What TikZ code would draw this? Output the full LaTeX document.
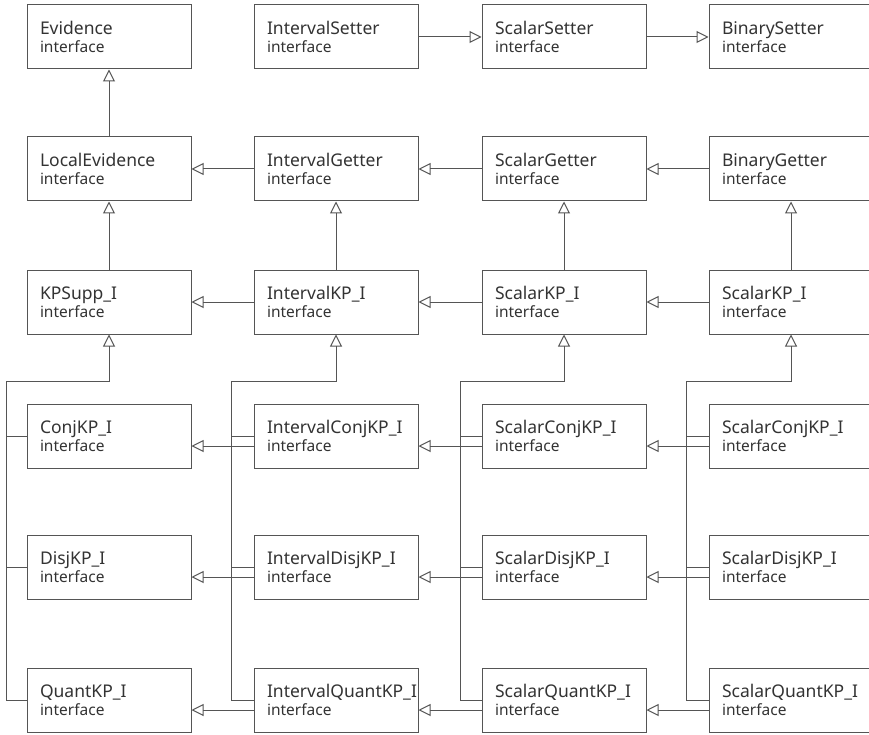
\documentclass[tikz,border=0pt]{standalone}
\usepackage{fontspec}
\setmainfont{Noto Sans}
\usetikzlibrary{positioning,arrows.meta}
\definecolor{linec}{HTML}{555555}
\definecolor{textc}{HTML}{333333}
\newcommand{\iname}[1]{#1\\\fontsize{15.5}{18}\selectfont interface}

\begin{document}
\begin{tikzpicture}[x=1pt,y=-1pt,
  iface/.style={draw=linec,line width=1pt,minimum width=164pt,minimum height=64pt,
    text width=138pt,inner xsep=13pt,inner ysep=0pt,align=left,text=textc,
    font=\fontsize{17.5}{18}\selectfont},
  gen/.style={draw=linec,line width=1pt,-{Triangle[open,length=12pt,width=12pt]}},
  bus/.style={draw=linec,line width=1pt}]
\useasboundingbox (0,0) rectangle (869,735);
\clip (0,0) rectangle (869,735);
% top two rows
\node (evid) [iface] at (109,37) {\iname{Evidence}};
\node (isetter) [iface] at (336,37) {\iname{IntervalSetter}};
\node (ssetter) [iface] at (564,37) {\iname{ScalarSetter}};
\node (bsetter) [iface] at (791,37) {\iname{BinarySetter}};
\node (locev) [iface] at (109,169) {\iname{LocalEvidence}};
\node (igetter) [iface] at (336,169) {\iname{IntervalGetter}};
\node (sgetter) [iface] at (564,169) {\iname{ScalarGetter}};
\node (bgetter) [iface] at (791,169) {\iname{BinaryGetter}};
% KP row
\node (kpsupp) [iface] at (109,302) {\iname{KPSupp\_I}};
\node (ikp) [iface] at (336,302) {\iname{IntervalKP\_I}};
\node (skp) [iface] at (564,302) {\iname{ScalarKP\_I}};
\node (skpb) [iface] at (791,302) {\iname{ScalarKP\_I}};
% conj, disj, quant
\node (conj) [iface] at (109,436) {\iname{ConjKP\_I}};
\node (iconj) [iface] at (336,436) {\iname{IntervalConjKP\_I}};
\node (sconj) [iface] at (564,436) {\iname{ScalarConjKP\_I}};
\node (sconjb) [iface] at (791,436) {\iname{ScalarConjKP\_I}};
\node (disj) [iface] at (109,567) {\iname{DisjKP\_I}};
\node (idisj) [iface] at (336,567) {\iname{IntervalDisjKP\_I}};
\node (sdisj) [iface] at (564,567) {\iname{ScalarDisjKP\_I}};
\node (sdisjb) [iface] at (791,567) {\iname{ScalarDisjKP\_I}};
\node (quant) [iface] at (109,700) {\iname{QuantKP\_I}};
\node (iquant) [iface] at (336,700) {\iname{IntervalQuantKP\_I}};
\node (squant) [iface] at (564,700) {\iname{ScalarQuantKP\_I}};
\node (squantb) [iface] at (791,700) {\iname{ScalarQuantKP\_I}};

\draw[gen] (isetter) -- (ssetter);
\draw[gen] (ssetter) -- (bsetter);
\draw[gen] (locev) -- (evid);
\draw[gen] (igetter) -- (locev);
\draw[gen] (sgetter) -- (igetter);
\draw[gen] (bgetter) -- (sgetter);
\draw[gen] (kpsupp) -- (locev);
\draw[gen] (ikp) -- (igetter);
\draw[gen] (skp) -- (sgetter);
\draw[gen] (skpb) -- (bgetter);
\draw[gen] (ikp) -- (kpsupp);
\draw[gen] (skp) -- (ikp);
\draw[gen] (skpb) -- (skp);

% left pointing arrows, a bit below the middle
\draw[gen] ([yshift=-10pt]iconj.west) -- ([yshift=-10pt]conj.east);
\draw[gen] ([yshift=-10pt]sconj.west) -- ([yshift=-10pt]iconj.east);
\draw[gen] ([yshift=-10pt]sconjb.west) -- ([yshift=-10pt]sconj.east);
\draw[gen] ([yshift=-10pt]idisj.west) -- ([yshift=-10pt]disj.east);
\draw[gen] ([yshift=-10pt]sdisj.west) -- ([yshift=-10pt]idisj.east);
\draw[gen] ([yshift=-10pt]sdisjb.west) -- ([yshift=-10pt]sdisj.east);
\draw[gen] ([yshift=-10pt]iquant.west) -- ([yshift=-10pt]quant.east);
\draw[gen] ([yshift=-10pt]squant.west) -- ([yshift=-10pt]iquant.east);
\draw[gen] ([yshift=-10pt]squantb.west) -- ([yshift=-10pt]squant.east);

% buses up to the KP row
\draw[gen] (quant.west) -- ++(-20,0) |- ([yshift=-47pt]kpsupp.south) -- (kpsupp.south);
\draw[bus] (conj.west) -- ++(-20,0);
\draw[bus] (disj.west) -- ++(-20,0);
\draw[gen] (iquant.west) -- ++(-22,0) |- ([yshift=-47pt]ikp.south) -- (ikp.south);
\draw[bus] (iconj.west) -- ++(-22,0);
\draw[bus] (idisj.west) -- ++(-22,0);
\draw[gen] (squant.west) -- ++(-21,0) |- ([yshift=-47pt]skp.south) -- (skp.south);
\draw[bus] (sconj.west) -- ++(-21,0);
\draw[bus] (sdisj.west) -- ++(-21,0);
\draw[gen] (squantb.west) -- ++(-22,0) |- ([yshift=-47pt]skpb.south) -- (skpb.south);
\draw[bus] (sconjb.west) -- ++(-22,0);
\draw[bus] (sdisjb.west) -- ++(-22,0);
\end{tikzpicture}
\end{document}
